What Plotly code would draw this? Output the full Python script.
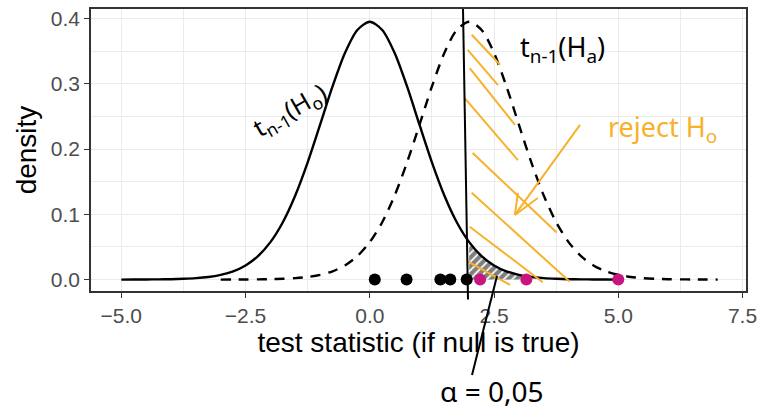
import plotly.graph_objects as go

# ---- data ----
t_offsets = [-5.0, -4.75, -4.5, -4.25, -4.0, -3.75, -3.5, -3.25, -3.0, -2.75, -2.5, -2.25,
             -2.0, -1.75, -1.5, -1.25, -1.0, -0.75, -0.5, -0.25, 0.0, 0.25, 0.5, 0.75,
             1.0, 1.25, 1.5, 1.75, 2.0, 2.25, 2.5, 2.75, 3.0, 3.25, 3.5, 3.75, 4.0,
             4.25, 4.5, 4.75, 5.0]
t_density = [0.0000, 0.0001, 0.0002, 0.0003, 0.0006, 0.0012, 0.0022, 0.0040, 0.0073, 0.0127,
             0.0217, 0.0359, 0.0574, 0.0879, 0.1288, 0.1796, 0.2372, 0.2958, 0.3471, 0.3824,
             0.3950, 0.3824, 0.3471, 0.2958, 0.2372, 0.1796, 0.1288, 0.0879, 0.0574, 0.0359,
             0.0217, 0.0127, 0.0073, 0.0040, 0.0022, 0.0012, 0.0006, 0.0003, 0.0002, 0.0001,
             0.0000]
null_center = 0.0
alt_center = 2.0
crit_value = 1.97
hatch_end = 3.25
test_stats = [0.10, 0.74, 1.42, 1.62, 1.95, 2.22, 3.15, 5.00]

x_ticks = [-5.0, -2.5, 0.0, 2.5, 5.0, 7.5]
x_ticktext = ["\u22125.0", "\u22122.5", "0.0", "2.5", "5.0", "7.5"]
y_ticks = [0.0, 0.1, 0.2, 0.3, 0.4]
y_ticktext = ["0.0", "0.1", "0.2", "0.3", "0.4"]

ORANGE = "#F7B12A"
MAGENTA = "#C8157F"
FONT = "Liberation Sans, Arial, sans-serif"

null_x = [null_center + o for o in t_offsets]
alt_x = [alt_center + o for o in t_offsets]

hatch_x = [x for x in null_x if crit_value <= x <= hatch_end]
hatch_y = [d for x, d in zip(null_x, t_density) if crit_value <= x <= hatch_end]

fig = go.Figure()

fig.add_trace(go.Scatter(
    x=hatch_x, y=hatch_y, mode="lines", line=dict(width=0, shape="spline"),
    fill="tozeroy", fillcolor="rgba(0,0,0,0)",
    fillpattern=dict(shape="/", fgcolor="black", bgcolor="rgba(0,0,0,0)", size=6, solidity=0.7),
    hoverinfo="skip", showlegend=False))

fig.add_trace(go.Scatter(
    x=null_x, y=t_density, mode="lines",
    line=dict(color="black", width=2.4, shape="spline", smoothing=0.8),
    showlegend=False))

fig.add_trace(go.Scatter(
    x=alt_x, y=t_density, mode="lines",
    line=dict(color="black", width=2.4, dash="10px,8px", shape="spline", smoothing=0.8),
    showlegend=False))

pt_colors = [MAGENTA if s > crit_value else "black" for s in test_stats]
fig.add_trace(go.Scatter(
    x=test_stats, y=[0] * len(test_stats), mode="markers",
    marker=dict(color=pt_colors, size=12, line=dict(width=0)),
    showlegend=False))

# ---- hand-drawn overlay ----
shapes = []
orange_strokes = [
    ((2.05, 0.375), (2.62, 0.329)),
    ((1.97, 0.352), (2.58, 0.298)),
    ((2.01, 0.324), (2.92, 0.237)),
    ((1.91, 0.278), (2.98, 0.183)),
    ((2.07, 0.194), (3.76, 0.072)),
    ((2.05, 0.133), (4.02, -0.003)),
    ((2.01, 0.081), (3.48, -0.004)),
    ((1.97, 0.028), (2.82, -0.008)),
    ((4.23, 0.237), (2.92, 0.099)),
    ((2.98, 0.133), (2.92, 0.099)),
    ((3.38, 0.125), (2.92, 0.099)),
]
for (a, b) in orange_strokes:
    shapes.append(dict(type="line", xref="x", yref="y", x0=a[0], y0=a[1], x1=b[0], y1=b[1],
                       line=dict(color=ORANGE, width=2)))
# hand-drawn critical line
shapes.append(dict(type="line", xref="paper", yref="paper",
                   x0=(463 - 91) / 655, y0=1.0, x1=(468 - 91) / 655, y1=-0.03,
                   line=dict(color="black", width=2)))
# pointer to alpha
shapes.append(dict(type="line", xref="paper", yref="paper",
                   x0=(497 - 91) / 655, y0=(291 - 276) / 282, x1=(472 - 91) / 655, y1=(291 - 375) / 282,
                   line=dict(color="black", width=2)))

hand_font = "Noto Sans"
annotations = [
    dict(text="t<sub>n-1</sub>(H<sub>o</sub>)", x=(290 - 91) / 655, y=(291 - 110) / 282,
         xref="paper", yref="paper", xanchor="center", yanchor="middle",
         showarrow=False, textangle=-30,
         font=dict(family=hand_font, size=25, color="black")),
    dict(text="t<sub>n-1</sub>(H<sub>a</sub>)", x=(562 - 91) / 655, y=(291 - 48) / 282,
         xref="paper", yref="paper", xanchor="center", yanchor="middle", showarrow=False,
         font=dict(family=hand_font, size=27, color="black")),
    dict(text="reject H<sub>o</sub>", x=(662 - 91) / 655, y=(291 - 128) / 282,
         xref="paper", yref="paper", xanchor="center", yanchor="middle", showarrow=False,
         font=dict(family=hand_font, size=27, color=ORANGE)),
    dict(text="\u03b1 = 0,05", x=(492 - 91) / 655, y=(291 - 391) / 282,
         xref="paper", yref="paper", xanchor="center", yanchor="middle", showarrow=False,
         font=dict(family=hand_font, size=28, color="black")),
]

axis_common = dict(
    automargin=False,
    showline=True, mirror=True, linecolor="#333333", linewidth=1.6,
    showgrid=True, gridcolor="#ebebeb", gridwidth=1.1,
    zeroline=False, ticks="outside", ticklen=5, tickcolor="#333333", tickwidth=1.3,
    tickfont=dict(family=FONT, size=21, color="#4d4d4d"),
)

fig.update_layout(
    width=761, height=412,
    margin=dict(l=91, r=15, t=9, b=121, autoexpand=False),
    paper_bgcolor="white", plot_bgcolor="white",
    showlegend=False,
    shapes=shapes, annotations=annotations,
    xaxis=dict(range=[-5.61, 7.57], tickvals=x_ticks, ticktext=x_ticktext,
               minor=dict(tick0=-3.75, dtick=2.5, showgrid=True, gridcolor="#ebebeb", gridwidth=0.6, ticklen=0),
               title=dict(text="test statistic (if null is true)", standoff=4,
                          font=dict(family=FONT, size=28, color="black")),
               **axis_common),
    yaxis=dict(range=[-0.0175, 0.4145], tickvals=y_ticks, ticktext=y_ticktext,
               minor=dict(tick0=0.05, dtick=0.1, showgrid=True, gridcolor="#ebebeb", gridwidth=0.6, ticklen=0),
               title=dict(text="density", standoff=6,
                          font=dict(family=FONT, size=28, color="black")),
               **axis_common),
)

fig.write_html("out.html", config={"displayModeBar": False},
               post_script="document.body.style.margin='0';document.body.style.overflow='hidden';")
